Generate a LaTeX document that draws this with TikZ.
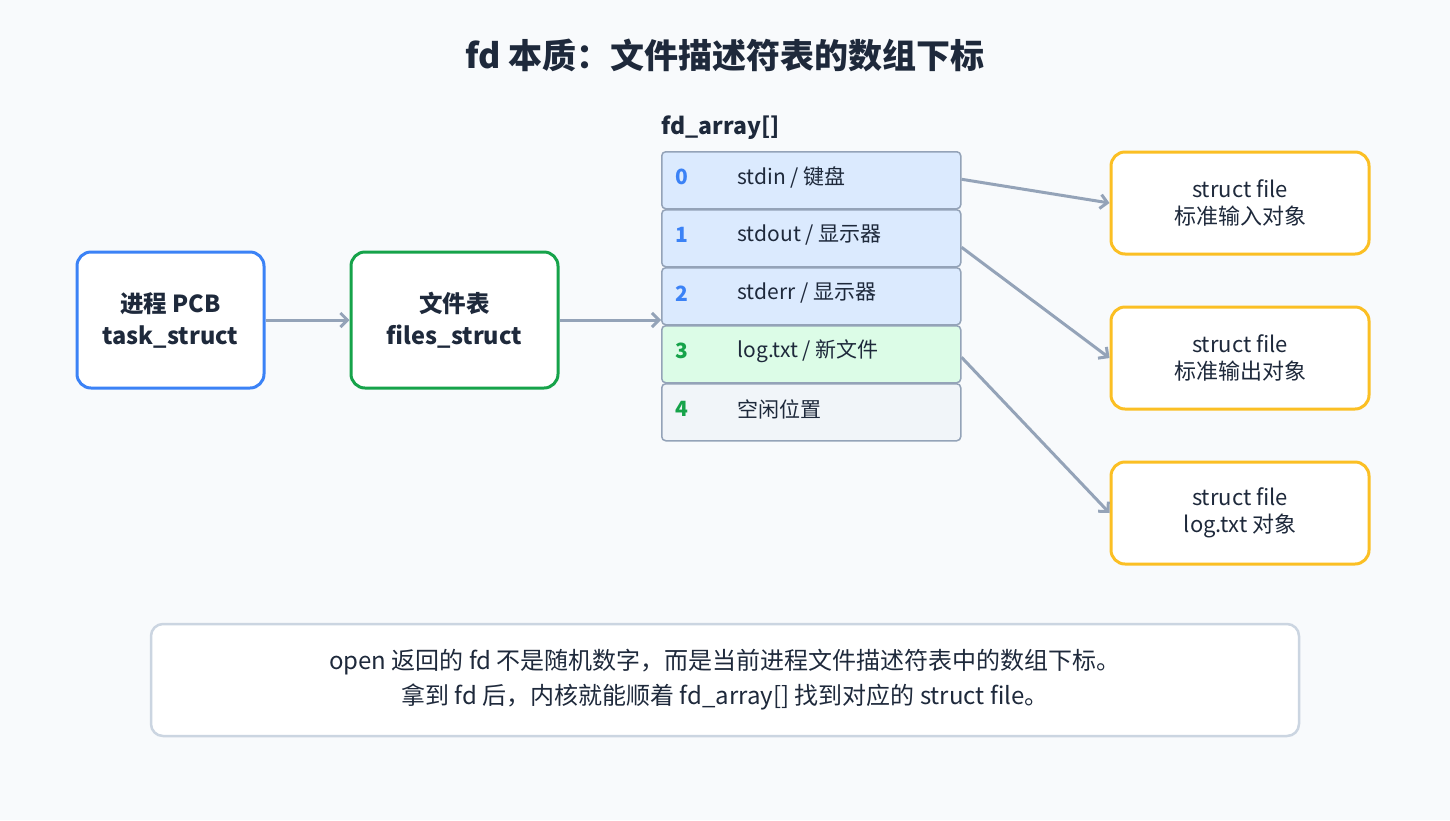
\documentclass[tikz,border=0pt]{standalone}
\usepackage{fontspec}
\setmainfont{Noto Sans CJK SC}
\usetikzlibrary{arrows.meta}
\definecolor{bgc}{HTML}{F8FAFC}
\definecolor{ink}{HTML}{1E293B}
\definecolor{linec}{HTML}{94A3B8}
\definecolor{bluec}{HTML}{3B82F6}
\definecolor{greenc}{HTML}{16A34A}
\definecolor{orangec}{HTML}{FBBF24}
\definecolor{rowblue}{HTML}{DBEAFE}
\definecolor{rowgreen}{HTML}{DCFCE7}
\definecolor{rowgray}{HTML}{F1F5F9}
\definecolor{notec}{HTML}{CBD5E1}
\begin{document}
\begin{tikzpicture}[x=1pt,y=-1pt,
  every node/.style={text=ink,font=\fontsize{21}{27}\selectfont},
  main node/.style={draw,line width=3pt,rounded corners=14pt,fill=white,
    align=center,font=\fontsize{23.5}{32}\selectfont\bfseries},
  row/.style={draw=linec,line width=1.5pt,rounded corners=4pt,
    minimum width=299pt,minimum height=57pt,anchor=north west},
  obj/.style={draw=orangec,line width=3pt,rounded corners=14pt,fill=white,
    minimum width=258pt,minimum height=102pt,align=center,
    font=\fontsize{22}{27}\selectfont},
  link/.style={draw=linec,line width=3pt,-{Straight Barb[length=7pt,width=14pt]}}]

  \fill[bgc] (0,0) rectangle (1450,820);
  \node[font=\fontsize{34}{40}\selectfont\bfseries] (title) at (725,55)
    {fd 本质：文件描述符表的数组下标};

  \node[main node,draw=bluec,minimum width=187pt,minimum height=136pt] (pcb)
    at (170.5,320) {进程 PCB\\task\_struct};
  \node[main node,draw=greenc,minimum width=207pt,minimum height=136pt] (files)
    at (454.5,320) {文件表\\files\_struct};

  \node[anchor=west,font=\fontsize{23}{26}\selectfont\bfseries] (arr)
    at (658,128) {fd\_array[]};

  % fd rows
  \node[row,fill=rowblue] (r0) at (661,151) {};
  \node[row,fill=rowblue] (r1) at (661,209) {};
  \node[row,fill=rowblue] (r2) at (661,267) {};
  \node[row,fill=rowgreen] (r3) at (661,325) {};
  \node[row,fill=rowgray] (r4) at (661,383) {};
  \foreach \i/\c/\t in {0/bluec/{stdin / 键盘},1/bluec/{stdout / 显示器},
      2/bluec/{stderr / 显示器},3/greenc/{log.txt / 新文件},4/greenc/{空闲位置}}{
    \node[text=\c,font=\fontsize{21}{26}\selectfont\bfseries] (n\i)
      at ([xshift=21pt,yshift=3pt]r\i.west) {\i};
    \node[anchor=west] (t\i) at ([xshift=73pt,yshift=3pt]r\i.west) {\t};
  }

  \node[obj] (o0) at (1240,203) {struct file\\标准输入对象};
  \node[obj] (o1) at (1240,358) {struct file\\标准输出对象};
  \node[obj] (o2) at (1240,513) {struct file\\log.txt 对象};

  \draw[link] (pcb) -- (files);
  \draw[link] (files) -- (files -| r2.west);
  \draw[link] ([yshift=1pt]r0.east) -- (o0.west);
  \draw[link] ([yshift=-9pt]r1.east) -- (o1.west);
  \draw[link] ([yshift=-3pt]r3.east) -- (o2.west);

  \node[draw=notec,line width=2.5pt,rounded corners=12pt,fill=white,
    minimum width=1148pt,minimum height=112pt,align=center,
    font=\fontsize{24}{35}\selectfont] (note) at (725,680)
    {open 返回的 fd 不是随机数字，而是当前进程文件描述符表中的数组下标。\\
     拿到 fd 后，内核就能顺着 fd\_array[] 找到对应的 struct file。};
\end{tikzpicture}
\end{document}
